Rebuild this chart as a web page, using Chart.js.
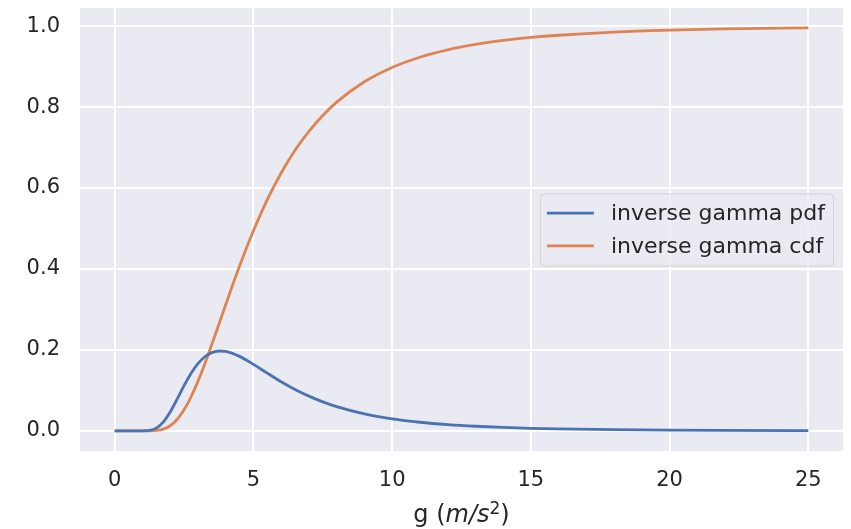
<!DOCTYPE html>
<html lang="en">
<head>
<meta charset="utf-8">
<title>Inverse gamma distribution</title>
<script src="https://cdn.jsdelivr.net/npm/chart.js@4.4.1/dist/chart.umd.min.js"></script>
<style>
  html, body { margin: 0; padding: 0; background: #fff; }
  #wrap { width: 851px; height: 529px; }
</style>
</head>
<body>
<div id="wrap"><canvas id="chart" width="851" height="529"></canvas></div>
<script>
"use strict";

// ======= Data =======
// sample points along g (m/s^2) with the density and cumulative values at each
const G_VALUES = [0, 0.5, 1, 1.25, 1.5, 1.75, 2, 2.25, 2.5, 2.75, 3, 3.25, 3.5, 3.75, 4,
  4.5, 5, 5.5, 6, 6.5, 7, 7.5, 8, 9, 10, 11, 12, 13, 14, 15, 16, 18, 20, 22, 25];
const PDF_VALUES = [0, 0, 0.0001, 0.0011, 0.0069, 0.0217, 0.0466, 0.0783, 0.1116, 0.1418,
  0.1660, 0.1832, 0.1933, 0.1973, 0.1963, 0.1841, 0.1644, 0.1426, 0.1215, 0.1024, 0.0858,
  0.0717, 0.0599, 0.0419, 0.0297, 0.0213, 0.0155, 0.0114, 0.0085, 0.0064, 0.0049, 0.0030,
  0.0019, 0.0012, 0.0007];
const CDF_VALUES = [0, 0, 0, 0.0001, 0.0010, 0.0043, 0.0127, 0.0282, 0.0520, 0.0837,
  0.1223, 0.1661, 0.2133, 0.2623, 0.3115, 0.4071, 0.4944, 0.5712, 0.6372, 0.6931, 0.7400,
  0.7793, 0.8121, 0.8624, 0.8978, 0.9231, 0.9413, 0.9546, 0.9645, 0.9719, 0.9774, 0.9853,
  0.9900, 0.9931, 0.9956];
const SERIES_LABELS = ["inverse gamma pdf", "inverse gamma cdf"];
const X_TICKS = [0, 5, 10, 15, 20, 25];
const Y_TICKS = [0, 0.2, 0.4, 0.6, 0.8, 1.0];

// ======= Style =======
const FONT_FAMILY = '"DejaVu Sans", "Liberation Sans", sans-serif';
const TEXT_COLOR = "#262626";
const PANEL_COLOR = "#EAEAF2";
const BLUE = "#4C72B0";
const ORANGE = "#DD8452";

const toPoints = ys => G_VALUES.map((g, i) => ({ x: g, y: ys[i] }));

// grey panel behind the grid
const panelBackground = {
  id: "panelBackground",
  beforeDraw(chart) {
    const { ctx, chartArea: a } = chart;
    ctx.save();
    ctx.fillStyle = PANEL_COLOR;
    ctx.fillRect(a.left, a.top, a.right - a.left, a.bottom - a.top);
    ctx.restore();
  }
};

// legend box sitting at the centre right of the panel
const innerLegend = {
  id: "innerLegend",
  afterDraw(chart) {
    const { ctx, chartArea: a } = chart;
    ctx.save();
    ctx.font = `22px ${FONT_FAMILY}`;
    const textW = Math.max(...chart.data.datasets.map(d => ctx.measureText(d.label).width));
    const w = 7 + 47 + 17 + textW + 8;
    const h = 72;
    const right = a.right - 10;
    const left = right - w;
    const cy = (a.top + a.bottom) / 2;
    const top = cy - h / 2;

    ctx.beginPath();
    ctx.roundRect(left + 0.5, top + 0.5, w, h, 4);
    ctx.fillStyle = "rgba(234,234,242,0.8)";
    ctx.fill();
    ctx.strokeStyle = "rgba(204,204,204,0.8)";
    ctx.lineWidth = 1;
    ctx.stroke();

    chart.data.datasets.forEach((d, i) => {
      const y = cy - 16.3 + i * 32.7;
      ctx.beginPath();
      ctx.moveTo(left + 7, y);
      ctx.lineTo(left + 54, y);
      ctx.strokeStyle = d.borderColor;
      ctx.lineWidth = 2.8;
      ctx.stroke();
      ctx.fillStyle = TEXT_COLOR;
      ctx.textBaseline = "middle";
      ctx.textAlign = "left";
      ctx.fillText(d.label, left + 71, y + 1);
    });
    ctx.restore();
  }
};

// x axis title: g (m/s^2) with italic units and a raised exponent
const axisTitle = {
  id: "axisTitle",
  afterDraw(chart) {
    const { ctx, chartArea: a } = chart;
    const parts = [
      { t: "g (", font: `24px ${FONT_FAMILY}`, dy: 0 },
      { t: "m/s", font: `italic 24px ${FONT_FAMILY}`, dy: 0 },
      { t: "2", font: `17px ${FONT_FAMILY}`, dy: -8 },
      { t: ")", font: `24px ${FONT_FAMILY}`, dy: 0 }
    ];
    ctx.save();
    let total = 0;
    parts.forEach(p => { ctx.font = p.font; p.w = ctx.measureText(p.t).width; total += p.w; });
    let x = (a.left + a.right) / 2 - total / 2;
    const base = 522;
    ctx.fillStyle = TEXT_COLOR;
    ctx.textBaseline = "alphabetic";
    ctx.textAlign = "left";
    parts.forEach(p => {
      ctx.font = p.font;
      ctx.fillText(p.t, x, base + p.dy);
      x += p.w;
    });
    ctx.restore();
  }
};

const gridOpts = { color: "#ffffff", lineWidth: 2, drawTicks: false };
const tickFont = { family: FONT_FAMILY, size: 21 };

new Chart(document.getElementById("chart"), {
  type: "line",
  data: {
    datasets: [
      { label: SERIES_LABELS[0], data: toPoints(PDF_VALUES), borderColor: BLUE },
      { label: SERIES_LABELS[1], data: toPoints(CDF_VALUES), borderColor: ORANGE }
    ]
  },
  options: {
    responsive: false,
    animation: false,
    layout: { padding: { top: 8, right: 8, left: 0, bottom: 0 } },
    elements: {
      point: { radius: 0 },
      line: { borderWidth: 2.8, cubicInterpolationMode: "monotone", fill: false }
    },
    plugins: { legend: { display: false }, tooltip: { enabled: false } },
    scales: {
      x: {
        type: "linear",
        min: -1.25,
        max: 26.25,
        afterBuildTicks: s => { s.ticks = X_TICKS.map(v => ({ value: v })); },
        // fixed axis band; tick labels sit well inside the panel so no edge padding
        afterFit: s => { s.height = 78; s.paddingLeft = 0; s.paddingRight = 0; },
        grid: gridOpts,
        border: { display: false },
        ticks: { font: tickFont, color: TEXT_COLOR, padding: 17, maxRotation: 0,
                 callback: v => String(v) }
      },
      y: {
        type: "linear",
        min: -0.0497,
        max: 1.0447,
        afterBuildTicks: s => { s.ticks = Y_TICKS.map(v => ({ value: v })); },
        afterFit: s => { s.width = 80; s.paddingTop = 0; s.paddingBottom = 0; },
        grid: gridOpts,
        border: { display: false },
        ticks: { font: tickFont, color: TEXT_COLOR, padding: 20,
                 callback: v => v.toFixed(1) }
      }
    }
  },
  plugins: [panelBackground, innerLegend, axisTitle]
});
</script>
</body>
</html>
